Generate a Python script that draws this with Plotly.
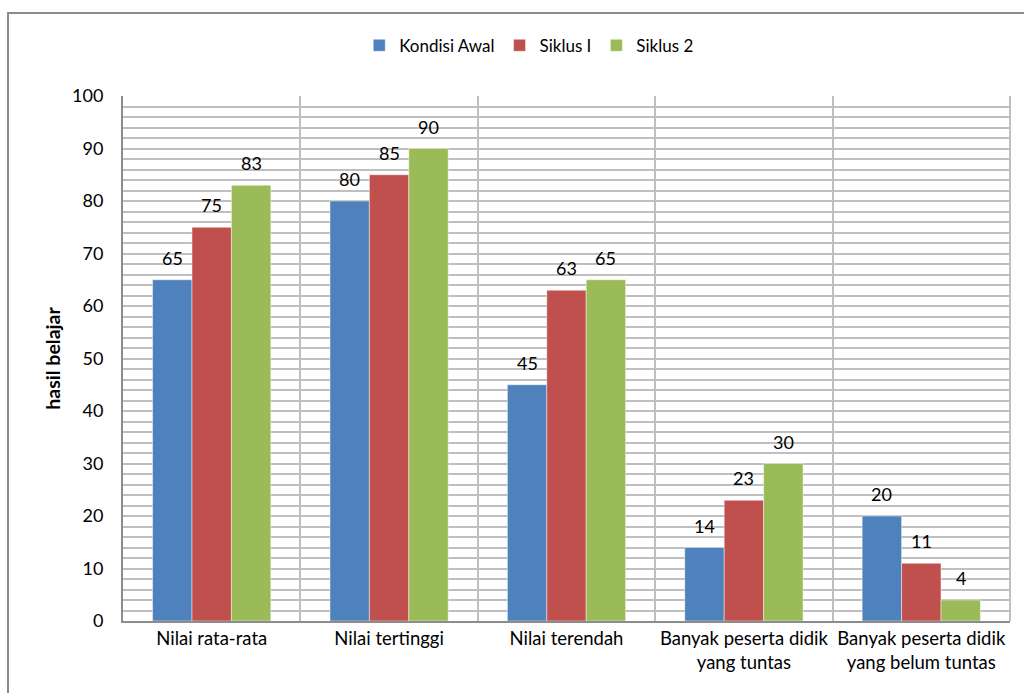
import plotly.graph_objects as go

categories = [
    "Nilai rata-rata",
    "Nilai tertinggi",
    "Nilai terendah",
    "Banyak peserta didik<br>yang tuntas",
    "Banyak peserta didik<br>yang belum tuntas",
]
kondisi_awal = [65, 80, 45, 14, 20]
siklus_1 = [75, 85, 63, 23, 11]
siklus_2 = [83, 90, 65, 30, 4]
y_ticks = [0, 10, 20, 30, 40, 50, 60, 70, 80, 90, 100]

series = [
    ("Kondisi Awal", kondisi_awal, "#4F81BD"),
    ("Siklus I", siklus_1, "#C0504D"),
    ("Siklus 2", siklus_2, "#9BBB59"),
]

FONT = "Lato, 'Open Sans', sans-serif"
GRID = "#bfbfbf"

# categories sit at the centre of each unit slot so that grid lines mark slot boundaries
xpos = [i + 0.5 for i in range(len(categories))]

fig = go.Figure()
n = len(series)
offsets = [(-1 + k) * (2 / 3) / n for k in range(n)]
for (name, vals, color), off in zip(series, offsets):
    fig.add_trace(go.Bar(
        x=xpos, y=vals, name=name,
        marker=dict(color=color, line=dict(color="rgba(255,255,255,0.45)", width=1)),
    ))
    for xc, v in zip(xpos, vals):
        fig.add_annotation(
            x=xc + off, y=v, text=str(v), showarrow=False,
            yshift=22, font=dict(family=FONT, size=18, color="#000000"),
        )

fig.update_layout(
    barmode="group",
    bargap=1 / 3,
    bargroupgap=0,
    width=1024, height=693,
    margin=dict(l=123, r=14, t=96, b=72),
    paper_bgcolor="white",
    plot_bgcolor="white",
    font=dict(family=FONT, size=16, color="#000000"),
    legend=dict(
        orientation="h", x=0.458, xanchor="center", y=0.934, yanchor="middle",
        yref="container", xref="paper",
        font=dict(family=FONT, size=17, color="#000000"),
        traceorder="normal", itemclick=False, itemwidth=30,
    ),
    showlegend=True,
)

fig.update_xaxes(
    range=[0, len(categories)],
    tickmode="array", tickvals=xpos, ticktext=categories,
    showgrid=False, zeroline=False,
    showline=True, linecolor="#8c8c8c", linewidth=2,
    ticks="", tickfont=dict(family=FONT, size=18.5, color="#000000"),
    minor=dict(tickmode="linear", tick0=0, dtick=1, showgrid=True,
               gridcolor=GRID, gridwidth=2),
    mirror=False,
)
fig.update_yaxes(
    range=[0, 100],
    tickmode="array", tickvals=y_ticks,
    showgrid=True, gridcolor=GRID, gridwidth=2,
    minor=dict(dtick=2, tick0=0, showgrid=True, gridcolor=GRID, gridwidth=1.5),
    zeroline=False,
    showline=True, linecolor="#8c8c8c", linewidth=2,
    ticks="", ticklabelstandoff=14,
    tickfont=dict(family=FONT, size=18, color="#000000"),
    title_text="<b>hasil belajar</b>",
    title_font=dict(family=FONT, size=19.5, color="#000000"),
    title_standoff=6,
)

# right edge of plot area
fig.add_shape(type="line", xref="paper", yref="paper", x0=1, x1=1, y0=0, y1=1,
              line=dict(color=GRID, width=2))

# outer chart frame
pw, ph = 1024 - 123 - 14, 693 - 96 - 72
fig.add_shape(
    type="rect", xref="paper", yref="paper",
    x0=(8 - 123) / pw, x1=(1040 - 123) / pw,
    y0=(621 - 710) / ph, y1=(621 - 13) / ph,
    line=dict(color="#8c8c8c", width=2), fillcolor="rgba(0,0,0,0)", layer="below",
)

fig.write_html("out.html")
